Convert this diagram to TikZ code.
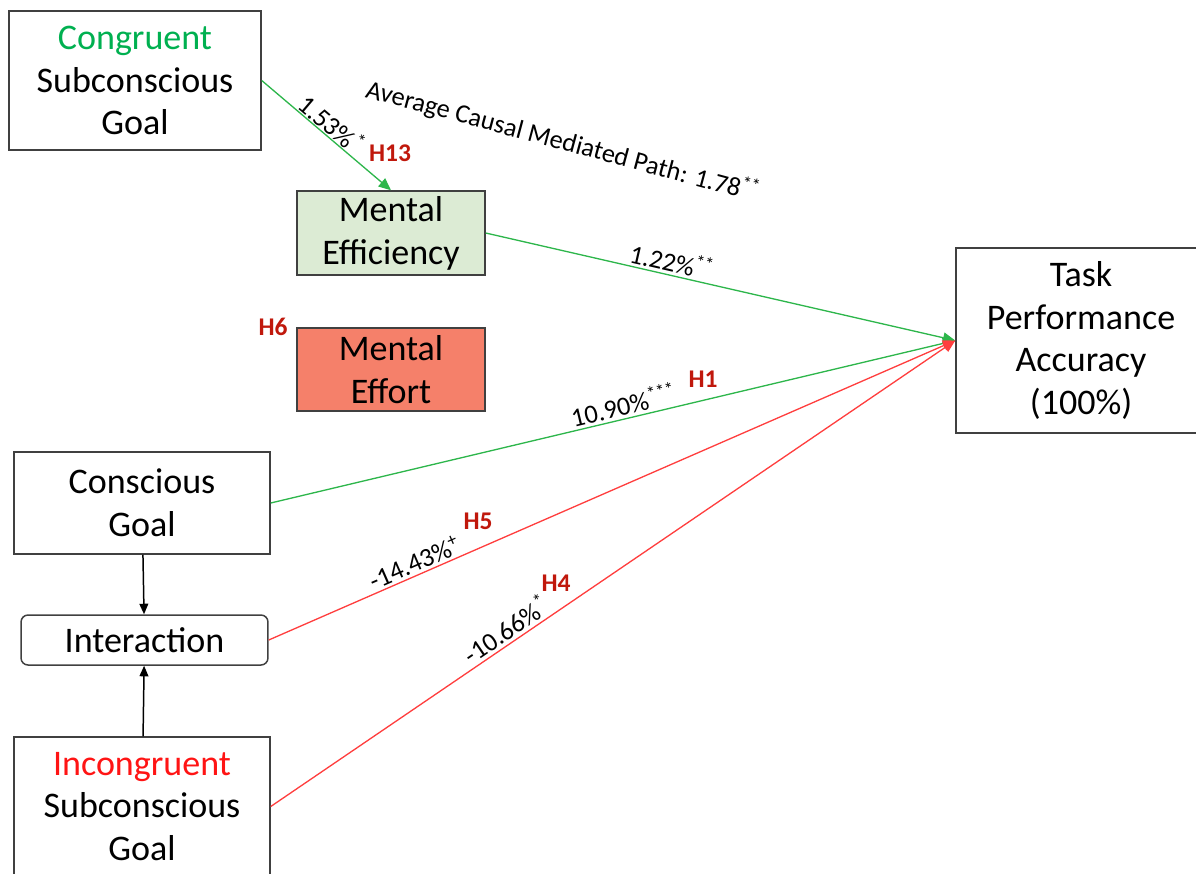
\documentclass[tikz,border=0pt]{standalone}
\usepackage{fontspec}
\setmainfont{Carlito}
\usetikzlibrary{arrows.meta,positioning}

\definecolor{congreen}{RGB}{0,176,80}
\definecolor{incred}{RGB}{255,20,20}
\definecolor{hypred}{RGB}{192,24,12}
\definecolor{pathgreen}{RGB}{45,182,75}
\definecolor{pathred}{RGB}{255,62,62}
\definecolor{effgreen}{RGB}{220,235,212}
\definecolor{effsalmon}{RGB}{245,128,106}
\definecolor{boxgray}{RGB}{64,64,64}

\tikzset{
  varbox/.style={draw=boxgray, line width=0.85pt, align=center, inner sep=0pt,
    font=\fontsize{20.5}{24.4}\selectfont},
  pospath/.style={draw=pathgreen, line width=0.75pt, -{Triangle[length=7pt,width=6pt]}},
  negpath/.style={draw=pathred, line width=0.75pt, -{Triangle[length=7pt,width=6pt]}},
  linkpath/.style={draw=black, line width=0.85pt, -{Triangle[length=6pt,width=5pt]}},
  effectlbl/.style={font=\fontsize{15}{17}\selectfont, sloped, above, inner sep=1.5pt},
  hyplbl/.style={text=hypred, font=\fontsize{14.5}{16}\selectfont\bfseries, inner sep=0pt}
}

\begin{document}
\begin{tikzpicture}[x=0.02cm, y=-0.02cm]
  \useasboundingbox (0,0) rectangle (1196,873);
  \clip (0,0) rectangle (1196,873);

  % Variables
  \node[varbox, minimum width=5.04cm, minimum height=2.78cm] (congruent) at (135,80.5)
    {\textcolor{congreen}{Congruent}\\Subconscious\\Goal};
  \node[varbox, fill=effgreen, minimum width=3.76cm, minimum height=1.68cm] (efficiency) at (391,233)
    {Mental\\Efficiency};
  \node[varbox, fill=effsalmon, minimum width=3.76cm, minimum height=1.66cm] (effort) at (391,369.5)
    {Mental\\Effort};
  \node[varbox, minimum width=5cm, minimum height=3.7cm] (task) at (1081,340.5)
    {Task\\Performance\\Accuracy\\(100\%)};
  \node[varbox, minimum width=5.12cm, minimum height=2.04cm] (conscious) at (142,503)
    {Conscious\\Goal};
  \node[varbox, rounded corners=4pt, minimum width=4.94cm, minimum height=1cm] (interaction) at (144.5,640)
    {Interaction};
  \node[varbox, minimum width=5.12cm, minimum height=2.78cm] (incongruent) at (142,806.5)
    {\textcolor{incred}{Incongruent}\\Subconscious\\Goal};

  % Moderation
  \draw[linkpath] (conscious) -- (interaction);
  \draw[linkpath] (incongruent) -- (interaction);

  % Mediated path
  \draw[pospath] (congruent.east) -- node[effectlbl, pos=0.48, inner sep=0.5pt] {1.53\%\textsuperscript{*}} (efficiency.north);
  \draw[pospath] (efficiency.east) -- node[effectlbl, pos=0.39] {1.22\%\textsuperscript{**}} (task.west);
  \node[font=\fontsize{15}{17}\selectfont, rotate=-15] (acme) at (563,141)
    {Average Causal Mediated Path: 1.78\textsuperscript{**}};

  % Direct paths
  \draw[pospath] (conscious.east) -- node[effectlbl, pos=0.52] {10.90\%\textsuperscript{***}} (task.west);
  \draw[negpath] (interaction.east) -- node[effectlbl, pos=0.22] {-14.43\%\textsuperscript{+}} (task.west);
  \draw[negpath] (incongruent.east) -- node[effectlbl, pos=0.355] {-10.66\%\textsuperscript{*}} (task.west);

  % Hypotheses
  \node[hyplbl] (h13) at (390,153) {H13};
  \node[hyplbl] (h6) at (273,327) {H6};
  \node[hyplbl] (h1) at (703,379) {H1};
  \node[hyplbl] (h5) at (478,521) {H5};
  \node[hyplbl] (h4) at (556,583) {H4};
\end{tikzpicture}
\end{document}
